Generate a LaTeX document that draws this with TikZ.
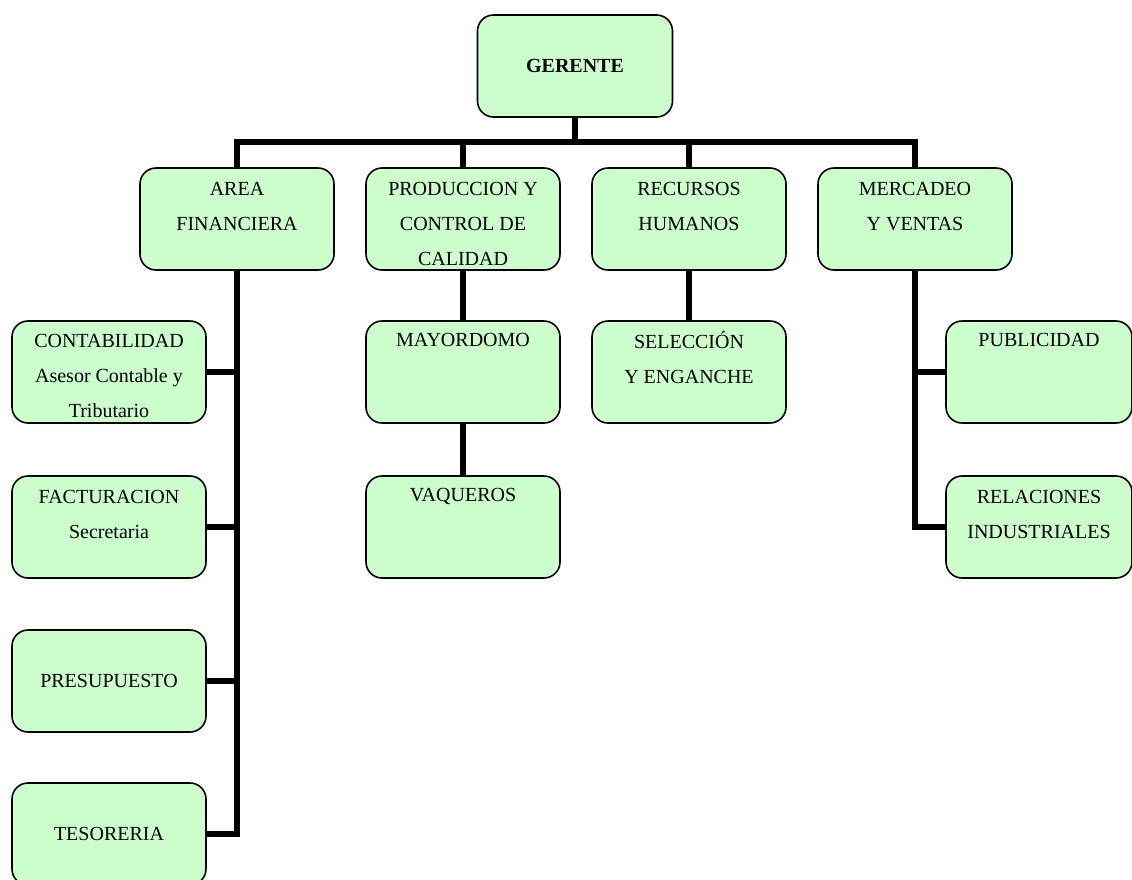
\documentclass[tikz,border=0pt]{standalone}
\usepackage{fontspec}
\setmainfont{Liberation Serif}
\definecolor{boxgreen}{HTML}{CCFFCC}
\newcommand{\TxtDrop}{15pt}
\newcommand{\OneDrop}{2pt}
\tikzset{
  orgbox/.style={
    draw=black,
    line width=1.6pt,
    rounded corners=16pt,
    fill=boxgreen,
    minimum width=194pt,
    minimum height=102pt,
    inner sep=0pt,
    font=\fontsize{20}{35}\selectfont
  },
  orgtext/.style={
    align=center,
    inner sep=0pt,
    anchor=north,
    execute at begin node=\strut,
    font=\fontsize{20}{35}\selectfont
  },
  orglink/.style={line width=6pt}
}

\begin{document}
\begin{tikzpicture}[x=1pt,y=-1pt]
  \useasboundingbox (0,0) rectangle (1132,879);

  % boxes
  \node[orgbox,minimum width=195pt] (ger) at (575,66) {\bfseries GERENTE};
  \node[orgbox] (fin)  at (237,219) {};
  \node[orgbox] (prod) at (463,219) {};
  \node[orgbox] (rh)   at (689,219) {};
  \node[orgbox] (mer)  at (915,219) {};

  \node[orgbox] (cont) at (109,372) {};
  \node[orgbox] (fact) at (109,527) {};
  \node[orgbox] (pres) at (109,681) {PRESUPUESTO};
  \node[orgbox] (teso) at (109,834) {TESORERIA};

  \node[orgbox] (may) at (463,372) {};
  \node[orgbox] (vaq) at (463,527) {};
  \node[orgbox] (sel) at (689,372) {};

  \node[orgbox,minimum width=186pt] (pub) at (1039,372) {};
  \node[orgbox,minimum width=186pt] (rel) at (1039,527) {};

  % texts
  \node[orgtext] (finT)  at ([yshift=-\TxtDrop]fin.north)  {AREA\\FINANCIERA};
  \node[orgtext] (prodT) at ([yshift=-\TxtDrop]prod.north) {PRODUCCION Y\\CONTROL DE\\CALIDAD};
  \node[orgtext] (rhT)   at ([yshift=-\TxtDrop]rh.north)   {RECURSOS\\HUMANOS};
  \node[orgtext] (merT)  at ([yshift=-\TxtDrop]mer.north)  {MERCADEO\\Y VENTAS};
  \node[orgtext] (contT) at ([yshift=-14pt]cont.north)     {CONTABILIDAD\\Asesor Contable y\\Tributario};
  \node[orgtext] (factT) at ([yshift=-\TxtDrop]fact.north) {FACTURACION\\Secretaria};
  \node[orgtext] (mayT)  at ([yshift=-\OneDrop]may.north)  {MAYORDOMO};
  \node[orgtext] (vaqT)  at ([yshift=-\OneDrop]vaq.north)  {VAQUEROS};
  \node[orgtext] (selT)  at ([yshift=-11pt]sel.north)      {SELECCIÓN\\Y ENGANCHE};
  \node[orgtext] (pubT)  at ([yshift=-\OneDrop]pub.north)  {PUBLICIDAD};
  \node[orgtext] (relT)  at ([yshift=-\TxtDrop]rel.north)  {RELACIONES\\INDUSTRIALES};

  % links
  \coordinate (bus) at (575,142);
  \draw[orglink] (ger.south) -- (bus);
  \draw[orglink] (fin.north) -- (fin.north |- bus) -- (mer.north |- bus) -- (mer.north);
  \draw[orglink] (prod.north) -- (prod.north |- bus);
  \draw[orglink] (rh.north) -- (rh.north |- bus);

  \draw[orglink] (fin.south) |- (teso.east);
  \draw[orglink] (cont.east) -- (cont.east -| fin.south);
  \draw[orglink] (fact.east) -- (fact.east -| fin.south);
  \draw[orglink] (pres.east) -- (pres.east -| fin.south);

  \draw[orglink] (prod.south) -- (may.north);
  \draw[orglink] (may.south) -- (vaq.north);
  \draw[orglink] (rh.south) -- (sel.north);

  \draw[orglink] (mer.south) |- (rel.west);
  \draw[orglink] (pub.west) -- (pub.west -| mer.south);
\end{tikzpicture}
\end{document}
